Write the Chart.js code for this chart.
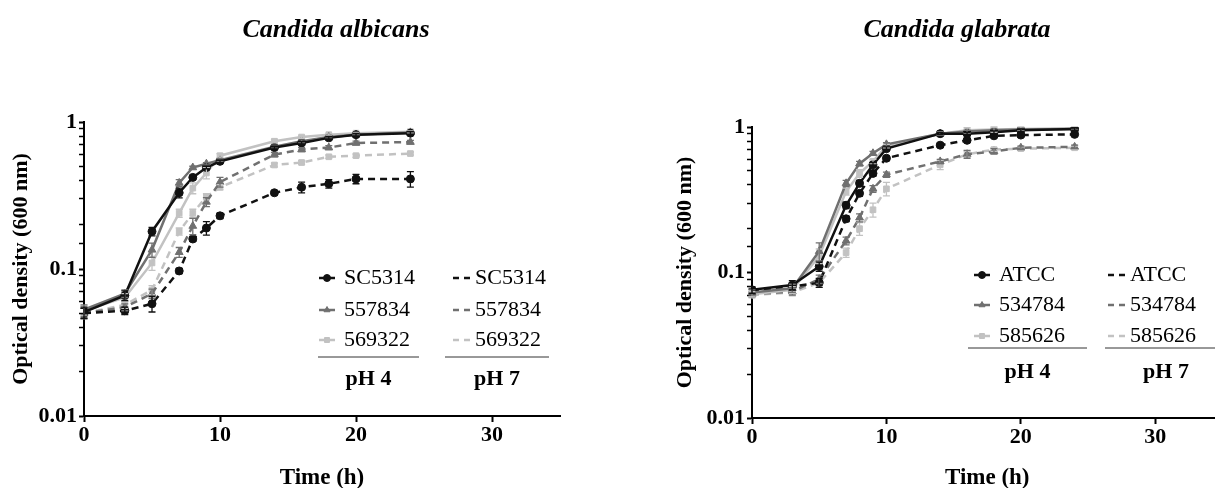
<!DOCTYPE html>
<html>
<head>
<meta charset="utf-8">
<script src="https://cdn.jsdelivr.net/npm/chart.js@4.4.0/dist/chart.umd.min.js"></script>
<style>
    body { margin: 0; width: 1215px; height: 488px; overflow: hidden; background: #fff; }
    #left { position: absolute; left: 0; top: 0; width: 607px; height: 488px; }
    #right { position: absolute; left: 607px; top: 0; width: 621px; height: 488px; }
</style>
</head>
<body>
<div id="left"><canvas id="albChart"></canvas></div>
<div id="right"><canvas id="glaChart"></canvas></div>
<script>
// sampling times (h)
var hours = [0, 3, 5, 7, 8, 9, 10, 14, 16, 18, 20, 24];
var xTicks = [0, 10, 20, 30];
var yTicks = [0.01, 0.1, 1];

// Candida albicans
var albStrains = ['SC5314', '557834', '569322'];
var albSC5314_pH4 = [0.051, 0.066, 0.18, 0.33, 0.42, 0.49, 0.54, 0.67, 0.72, 0.78, 0.82, 0.84];
var alb557834_pH4 = [0.053, 0.068, 0.135, 0.385, 0.49, 0.52, 0.55, 0.68, 0.74, 0.79, 0.82, 0.85];
var alb569322_pH4 = [0.052, 0.064, 0.11, 0.24, 0.355, 0.45, 0.59, 0.74, 0.79, 0.82, 0.84, 0.86];
var albSC5314_pH7 = [0.050, 0.052, 0.058, 0.097, 0.16, 0.19, 0.23, 0.33, 0.36, 0.38, 0.41, 0.41];
var alb557834_pH7 = [0.050, 0.055, 0.068, 0.13, 0.196, 0.286, 0.39, 0.60, 0.65, 0.67, 0.72, 0.73];
var alb569322_pH7 = [0.050, 0.057, 0.072, 0.18, 0.24, 0.31, 0.36, 0.51, 0.53, 0.58, 0.59, 0.61];
var albSC5314_pH4_err = [0.004, 0.005, 0.012, 0.025, 0.01, 0.01, 0.01, 0.015, 0.015, 0.015, 0.015, 0.02];
var alb557834_pH4_err = [0.004, 0.004, 0.015, 0.02, 0.01, 0.01, 0.01, 0.015, 0.015, 0.01, 0.01, 0.01];
var alb569322_pH4_err = [0.004, 0.004, 0.012, 0.015, 0.03, 0.04, 0.02, 0.02, 0.015, 0.01, 0.01, 0.01];
var albSC5314_pH7_err = [0.004, 0.003, 0.007, 0.004, 0.006, 0.02, 0.01, 0.01, 0.03, 0.025, 0.03, 0.05];
var alb557834_pH7_err = [0.004, 0.003, 0.005, 0.01, 0.025, 0.02, 0.03, 0.02, 0.02, 0.02, 0.02, 0.02];
var alb569322_pH7_err = [0.004, 0.003, 0.005, 0.01, 0.015, 0.015, 0.015, 0.015, 0.015, 0.015, 0.015, 0.015];

// Candida glabrata
var glaStrains = ['ATCC', '534784', '585626'];
var glaATCC_pH4 = [0.076, 0.082, 0.11, 0.29, 0.41, 0.55, 0.71, 0.90, 0.90, 0.92, 0.95, 0.97];
var gla534784_pH4 = [0.073, 0.078, 0.14, 0.41, 0.56, 0.66, 0.76, 0.90, 0.93, 0.95, 0.96, 0.97];
var gla585626_pH4 = [0.071, 0.076, 0.13, 0.36, 0.48, 0.58, 0.74, 0.90, 0.95, 0.96, 0.97, 0.98];
var glaATCC_pH7 = [0.074, 0.080, 0.085, 0.234, 0.35, 0.48, 0.61, 0.75, 0.81, 0.87, 0.88, 0.89];
var gla534784_pH7 = [0.071, 0.074, 0.09, 0.165, 0.238, 0.376, 0.47, 0.58, 0.65, 0.68, 0.72, 0.73];
var gla585626_pH7 = [0.070, 0.073, 0.085, 0.137, 0.20, 0.27, 0.376, 0.55, 0.65, 0.70, 0.71, 0.72];
var glaATCC_pH4_err = [0.004, 0.006, 0.008, 0.015, 0.02, 0.02, 0.02, 0.015, 0.02, 0.02, 0.02, 0.02];
var gla534784_pH4_err = [0.003, 0.005, 0.02, 0.02, 0.02, 0.02, 0.02, 0.02, 0.02, 0.02, 0.02, 0.02];
var gla585626_pH4_err = [0.003, 0.004, 0.015, 0.02, 0.03, 0.02, 0.02, 0.02, 0.04, 0.04, 0.03, 0.02];
var glaATCC_pH7_err = [0.003, 0.004, 0.006, 0.01, 0.015, 0.02, 0.02, 0.02, 0.02, 0.02, 0.02, 0.02];
var gla534784_pH7_err = [0.003, 0.004, 0.006, 0.01, 0.015, 0.02, 0.02, 0.02, 0.04, 0.03, 0.02, 0.02];
var gla585626_pH7_err = [0.003, 0.004, 0.006, 0.01, 0.02, 0.03, 0.04, 0.04, 0.03, 0.02, 0.02, 0.02];

var colors = ['#111111', '#707070', '#c2c2c2'];
var shapes = ['circle', 'triangle', 'rect'];

Chart.defaults.font.family = '"Liberation Serif", "Times New Roman", serif';
Chart.defaults.color = '#000';

function isDecade(v) {
    var l = Math.log10(v);
    return Math.abs(l - Math.round(l)) < 1e-6;
}

function series(label, values, errors, i, dashed) {
    return {
        label: label,
        data: hours.map(function(h, k) { return { x: h, y: values[k] }; }),
        errors: errors,
        borderColor: colors[i],
        backgroundColor: colors[i],
        borderWidth: 2.5,
        borderDash: dashed ? [7, 5] : [],
        pointStyle: shapes[i],
        pointRadius: shapes[i] === 'triangle' ? 4.5 : 4,
        pointBorderWidth: 1,
        tension: 0
    };
}

// error bars
var errorBars = {
    id: 'errorBars',
    afterDatasetsDraw: function(chart) {
        var ctx = chart.ctx, ys = chart.scales.y, xs = chart.scales.x;
        ctx.save();
        ctx.setLineDash([]);
        ctx.lineWidth = 1.3;
        for (var d = chart.data.datasets.length - 1; d >= 0; d--) {
            var ds = chart.data.datasets[d];
            if (!ds.errors) continue;
            ctx.strokeStyle = ds.borderColor;
            ds.data.forEach(function(p, k) {
                var e = ds.errors[k];
                var px = xs.getPixelForValue(p.x);
                var y1 = ys.getPixelForValue(p.y + e), y2 = ys.getPixelForValue(Math.max(p.y - e, 0.011));
                ctx.beginPath();
                ctx.moveTo(px, y1); ctx.lineTo(px, y2);
                ctx.moveTo(px - 3.5, y1); ctx.lineTo(px + 3.5, y1);
                ctx.moveTo(px - 3.5, y2); ctx.lineTo(px + 3.5, y2);
                ctx.stroke();
            });
        }
        ctx.restore();
    }
};

// panel title and x axis title
var panelText = {
    id: 'panelText',
    afterDraw: function(chart, args, o) {
        var ctx = chart.ctx, area = chart.chartArea;
        ctx.save();
        ctx.fillStyle = '#000';
        ctx.textAlign = 'center';
        ctx.textBaseline = 'alphabetic';
        ctx.font = 'italic bold 26px "Liberation Serif"';
        ctx.fillText(o.title, o.titleX, 37);
        ctx.font = 'bold 23px "Liberation Serif"';
        ctx.fillText('Time (h)', (area.left + area.right) / 2, 484);
        ctx.restore();
    }
};

// two-column legend with pH captions underneath
var groupLegend = {
    id: 'groupLegend',
    afterDraw: function(chart, args, o) {
        var ctx = chart.ctx, dsets = chart.data.datasets;
        ctx.save();
        ctx.textBaseline = 'middle';
        ctx.fillStyle = '#000';
        o.rows.forEach(function(y, i) {
            var a = dsets[i], b = dsets[i + 3];
            ctx.setLineDash([]);
            ctx.lineWidth = 2.5;
            ctx.strokeStyle = a.borderColor;
            ctx.fillStyle = a.borderColor;
            ctx.beginPath();
            ctx.moveTo(o.col1 - 8, y); ctx.lineTo(o.col1 + 8, y);
            ctx.stroke();
            ctx.lineWidth = 1;
            Chart.helpers.drawPoint(ctx, { pointStyle: a.pointStyle, radius: 3.5, rotation: 0, borderWidth: 1 }, o.col1, y);
            ctx.lineWidth = 2.5;
            ctx.strokeStyle = b.borderColor;
            ctx.beginPath();
            ctx.moveTo(o.col2 - 9, y); ctx.lineTo(o.col2 - 3, y);
            ctx.moveTo(o.col2 + 2, y); ctx.lineTo(o.col2 + 8, y);
            ctx.stroke();
            ctx.fillStyle = '#000';
            ctx.font = '22px "Liberation Serif"';
            ctx.textAlign = 'left';
            ctx.fillText(a.label, o.col1 + 17, y);
            ctx.fillText(b.label, o.col2 + 13, y);
        });
        ctx.strokeStyle = '#333';
        ctx.lineWidth = 1;
        ctx.beginPath();
        ctx.moveTo(o.rule1[0], o.ruleY); ctx.lineTo(o.rule1[1], o.ruleY);
        ctx.moveTo(o.rule2[0], o.ruleY); ctx.lineTo(o.rule2[1], o.ruleY);
        ctx.stroke();
        ctx.font = 'bold 22px "Liberation Serif"';
        ctx.textAlign = 'center';
        ctx.fillText('pH 4', (o.rule1[0] + o.rule1[1]) / 2, o.capY);
        ctx.fillText('pH 7', (o.rule2[0] + o.rule2[1]) / 2, o.capY);
        ctx.restore();
    }
};

function makeChart(id, title, strains, sets, opt) {
    var datasets = [];
    for (var i = 0; i < 3; i++) datasets.push(series(strains[i], sets[i][0], sets[i][1], i, false));
    for (var j = 0; j < 3; j++) datasets.push(series(strains[j], sets[j + 3][0], sets[j + 3][1], j, true));
    return new Chart(document.getElementById(id), {
        type: 'line',
        data: { datasets: datasets },
        plugins: [errorBars, groupLegend, panelText],
        options: {
            responsive: true,
            maintainAspectRatio: false,
            animation: false,
            layout: { padding: { left: opt.padLeft, right: opt.padRight, top: opt.padTop, bottom: 0 } },
            plugins: {
                legend: { display: false },
                tooltip: { enabled: false },
                title: { display: false },
                groupLegend: opt.legend,
                panelText: { title: title, titleX: opt.titleX }
            },
            scales: {
                x: {
                    type: 'linear',
                    min: 0,
                    max: 35,
                    afterFit: function(s) { s.height = opt.xHeight; },
                    afterBuildTicks: function(s) { s.ticks = xTicks.map(function(v) { return { value: v }; }); },
                    border: { color: '#000', width: 2 },
                    grid: { drawOnChartArea: false, color: '#000', tickLength: 6, tickWidth: 2 },
                    ticks: { font: { size: 22, weight: 'bold' }, color: '#000', padding: 0, maxRotation: 0 },
                    title: { display: false }
                },
                y: {
                    type: 'logarithmic',
                    min: 0.01,
                    max: 1,
                    afterFit: function(s) { s.width = opt.yWidth; },
                    border: { color: '#000', width: 2 },
                    grid: {
                        drawOnChartArea: false,
                        color: '#000',
                        tickLength: 5,
                        tickWidth: function(c) { return c.tick && isDecade(c.tick.value) ? 2 : 1.5; }
                    },
                    ticks: {
                        autoSkip: false,
                        padding: 2,
                        font: { size: 22, weight: 'bold' },
                        color: '#000',
                        callback: function(v) {
                            for (var k = 0; k < yTicks.length; k++) {
                                if (Math.abs(v - yTicks[k]) < yTicks[k] * 1e-6) return String(yTicks[k]);
                            }
                            return '';
                        }
                    },
                    title: {
                        display: true,
                        text: 'Optical density (600 nm)',
                        font: { size: 22, weight: 'bold' },
                        color: '#000',
                        padding: { top: 8, bottom: 0 }
                    }
                }
            }
        }
    });
}

window.addEventListener('DOMContentLoaded', function() {
    makeChart('albChart', 'Candida albicans', albStrains, [
        [albSC5314_pH4, albSC5314_pH4_err],
        [alb557834_pH4, alb557834_pH4_err],
        [alb569322_pH4, alb569322_pH4_err],
        [albSC5314_pH7, albSC5314_pH7_err],
        [alb557834_pH7, alb557834_pH7_err],
        [alb569322_pH7, alb569322_pH7_err]
    ], {
        padLeft: 0, padRight: 47, padTop: 122, yWidth: 84, xHeight: 72, titleX: 336,
        legend: { rows: [278, 310, 340], col1: 327, col2: 462, rule1: [318, 419], rule2: [445, 549], ruleY: 357, capY: 379 }
    });
    makeChart('glaChart', 'Candida glabrata', glaStrains, [
        [glaATCC_pH4, glaATCC_pH4_err],
        [gla534784_pH4, gla534784_pH4_err],
        [gla585626_pH4, gla585626_pH4_err],
        [glaATCC_pH7, glaATCC_pH7_err],
        [gla534784_pH7, gla534784_pH7_err],
        [gla585626_pH7, gla585626_pH7_err]
    ], {
        padLeft: 57, padRight: 0, padTop: 127, yWidth: 88, xHeight: 70, titleX: 350,
        legend: { rows: [275, 305, 336], col1: 375, col2: 510, rule1: [361, 480], rule2: [498, 620], ruleY: 348, capY: 372 }
    });
});
</script>
</body>
</html>
